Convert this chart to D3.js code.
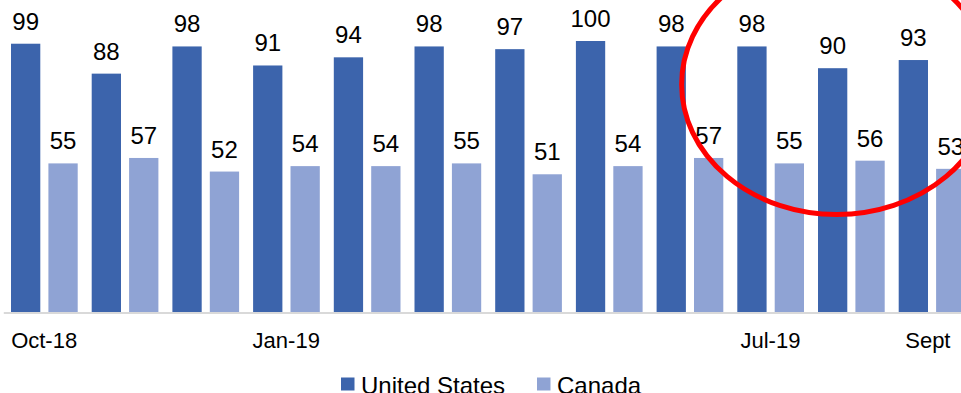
<!DOCTYPE html>
<html>
<head>
<meta charset="utf-8">
<script src="https://cdn.jsdelivr.net/npm/d3@7"></script>
<style>
  html, body { margin: 0; padding: 0; background: #fff; overflow: hidden; }
  svg { display: block; font-family: "Liberation Sans", Arial, sans-serif; }
</style>
</head>
<body>
<div id="chart"></div>
<script>
// Monthly values, Oct-18 .. Sep-19
const months = ["Oct-18", "Nov-18", "Dec-18", "Jan-19", "Feb-19", "Mar-19",
  "Apr-19", "May-19", "Jun-19", "Jul-19", "Aug-19", "Sep-19"];
const tickLabels = ["Oct-18", "", "", "Jan-19", "", "", "", "", "", "Jul-19", "", "Sept"];
const usValues = [99, 88, 98, 91, 94, 98, 97, 100, 98, 98, 90, 93];
const canadaValues = [55, 57, 52, 54, 54, 55, 51, 54, 57, 55, 56, 53];
const seriesNames = ["United States", "Canada"];
const seriesColors = ["#3c64ac", "#8fa3d4"];

const width = 961;
const height = 393;
const baseline = 313;

const svg = d3.select("#chart")
  .append("svg")
  .attr("width", width)
  .attr("height", height);

// Scales
const x0 = d3.scaleBand()
  .domain(months)
  .range([3.8, 3.8 + 80.7 * months.length])
  .padding(0);

const x1 = d3.scaleBand()
  .domain(seriesNames)
  .range([7.2, 73.9])
  .paddingInner(0.217);

const y = d3.scaleLinear()
  .domain([0, 100])
  .range([baseline, 41]);

const rows = months.map((m, i) => ({
  month: m,
  values: [
    { name: seriesNames[0], value: usValues[i] },
    { name: seriesNames[1], value: canadaValues[i] }
  ]
}));

const color = d3.scaleOrdinal().domain(seriesNames).range(seriesColors);

// Bars
const groups = svg.append("g")
  .selectAll("g")
  .data(rows)
  .join("g")
  .attr("transform", (d) => `translate(${x0(d.month)},0)`);

groups.selectAll("rect")
  .data((d) => d.values)
  .join("rect")
  .attr("x", (d) => x1(d.name))
  .attr("y", (d) => y(d.value))
  .attr("width", x1.bandwidth())
  .attr("height", (d) => y(0) - y(d.value))
  .attr("fill", (d) => color(d.name));

// Value labels
groups.selectAll("text")
  .data((d) => d.values)
  .join("text")
  .attr("x", (d) => x1(d.name) + x1.bandwidth() / 2)
  .attr("y", (d) => y(d.value) - 14)
  .attr("text-anchor", "middle")
  .style("font-size", "24px")
  .attr("fill", "#000")
  .text((d) => d.value);

// Category axis
const xAxis = d3.axisBottom(x0)
  .tickSize(0)
  .tickPadding(0)
  .tickFormat((d, i) => tickLabels[i]);

const axisG = svg.append("g")
  .attr("transform", `translate(0,${baseline})`)
  .call(xAxis);

axisG.select(".domain")
  .attr("stroke", "#d9d9d9")
  .attr("stroke-width", 2)
  .attr("d", `M${x0.range()[0]},0H${width}`);

axisG.selectAll(".tick text")
  .attr("dy", null)
  .attr("y", 35)
  .attr("dx", (d, i) => (i === months.length - 1 ? -4 : 0))
  .style("font-size", "22px")
  .style("font-family", "Liberation Sans, Arial, sans-serif")
  .attr("fill", "#000");

// Red annotation ellipse around the latest months
const cx = x0(months[10]) + x1(seriesNames[0]) + x1.bandwidth() / 2;
svg.append("ellipse")
  .attr("cx", cx + 4)
  .attr("cy", y(84))
  .attr("rx", 155)
  .attr("ry", 130)
  .attr("fill", "none")
  .attr("stroke", "#ff0000")
  .attr("stroke-width", 5);

// Legend
const legendPos = [341, 537];
const legend = svg.append("g")
  .selectAll("g")
  .data(seriesNames)
  .join("g")
  .attr("transform", (d, i) => `translate(${legendPos[i]},377.5)`);

legend.append("rect")
  .attr("width", 13.5)
  .attr("height", 13)
  .attr("fill", (d) => color(d));

legend.append("text")
  .attr("x", 20)
  .attr("y", 16.5)
  .style("font-size", "24px")
  .attr("fill", "#000")
  .text((d) => d);
</script>
</body>
</html>
